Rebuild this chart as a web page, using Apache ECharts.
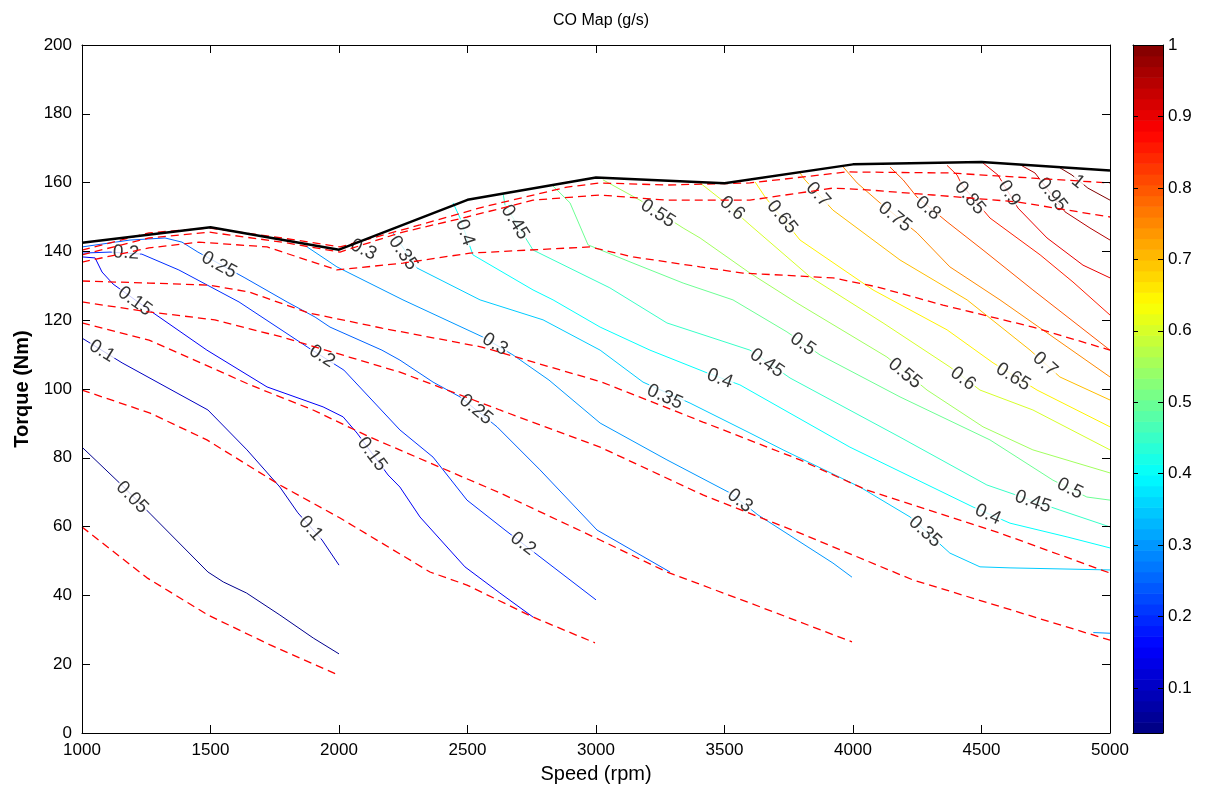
<!DOCTYPE html>
<html><head><meta charset="utf-8">
<script src="https://cdn.jsdelivr.net/npm/echarts@6/dist/echarts.min.js"></script>
<style>html,body{margin:0;padding:0;background:#fff}#c{width:1210px;height:798px}</style>
</head><body><div id="c"></div><script>
// ---------------- data ----------------
const speedBoundary  = [1000,1500,2000,2500,3000,3500,4000,4500,5000];
const torqueBoundary = [142.5,147,140.5,155,161.5,159.8,165.3,166,163.5];

const colorbarTicks = [0.1,0.2,0.3,0.4,0.5,0.6,0.7,0.8,0.9,1];

const co005 = [[1000,83.1],[1150,72.4],[1270,63.4],[1490,46.8],[1550,43.9],[1640,40.7],[1770,34.3],[1900,27.6],[2000,23.0]];
const co010 = [[1000,114.8],[1156,107.6],[1490,93.9],[1642,82.3],[1770,71.5],[1840,64.0],[1934,56.1],[2000,48.8]];
const co015 = [[1000,138.4],[1051,138.1],[1078,134.0],[1121,130.5],[1272,122.4],[1486,111.3],[1720,100.6],[1938,94.8],[2016,91.9],[2070,87.2],[2191,75.0],[2237,71.5],[2315,62.8],[2490,48.3],[2626,40.7],[2755,33.7]];
const co020 = [[1000,139.5],[1109,139.8],[1233,139.2],[1377,134.6],[1611,125.3],[1883,111.9],[2019,105.5],[2237,88.1],[2366,80.2],[2498,67.7],[2646,59.0],[2782,51.2],[3000,38.7]];
const co025 = [[1000,141.3],[1187,143.3],[1323,143.9],[1389,142.7],[1451,139.8],[1634,132.3],[1798,125.3],[1907,120.9],[1965,118.0],[2167,111.3],[2237,108.4],[2366,102.0],[2471,97.7],[2615,89.0],[2782,76.5],[3004,59.0],[3288,46.8]];
const co030 = [[1876,141.3],[1992,135.5],[2249,125.9],[2560,115.1],[2677,109.9],[2817,102.6],[3016,90.1],[3276,79.4],[3521,69.8],[3630,63.4],[3922,49.4],[3996,45.3]];
const co030b = [[4935,29.2],[5000,29.0]];
const co035 = [[2210,145.4],[2303,135.2],[2549,125.9],[2794,120.1],[3016,111.3],[3183,102.0],[3366,95.9],[3599,87.2],[3728,82.3],[4027,71.5],[4222,62.8],[4377,52.3],[4494,48.3],[4611,48.0],[5000,47.4]];
const co040 = [[2444,154.1],[2471,149.7],[2521,139.0],[2755,128.8],[2833,125.9],[3016,118.0],[3210,111.3],[3432,104.7],[3560,101.2],[3988,83.1],[4467,65.7],[4611,61.0],[4833,57.0],[5000,53.8]];
const co045 = [[2638,157.0],[2646,153.5],[2755,140.4],[3054,129.4],[3276,119.2],[3599,111.3],[3755,103.2],[4183,86.0],[4521,72.1],[4805,64.8],[5000,59.9]];
const co050 = [[2829,159.3],[2899,154.1],[2969,141.9],[3144,136.6],[3339,130.8],[3533,125.9],[3743,116.6],[3872,109.9],[4183,97.7],[4533,85.2],[4778,73.5],[4910,68.6],[5000,67.7]];
const co055 = [[3027,160.8],[3171,154.9],[3339,146.8],[3405,143.9],[3599,133.7],[3782,125.0],[4132,109.3],[4288,99.7],[4506,89.0],[4700,82.3],[5000,75.6]];
const co060 = [[3405,159.9],[3490,154.9],[3599,147.7],[3833,132.6],[4117,119.2],[4377,106.4],[4494,99.7],[4700,93.9],[5000,82.3]];
const co065 = [[3619,160.2],[3658,155.8],[3794,143.3],[4078,128.8],[4366,117.2],[4545,107.6],[4716,99.7],[5000,89.0]];
const co070 = [[3794,162.8],[3813,160.8],[3922,152.0],[4183,137.5],[4444,125.9],[4689,111.3],[4805,103.5],[5000,96.8]];
const co075 = [[3961,164.6],[4016,159.9],[4105,154.1],[4249,145.4],[4377,135.5],[4572,125.9],[4700,119.2],[5000,103.5]];
const co080 = [[4144,164.5],[4195,160.8],[4249,155.8],[4366,148.6],[4506,140.4],[4700,128.8],[5000,111.3]];
const co085 = [[4366,165.0],[4405,162.2],[4424,159.3],[4533,149.7],[4728,139.0],[4856,131.1],[5000,121.5]];
const co090 = [[4506,165.7],[4564,162.2],[4642,152.6],[4755,143.9],[4895,136.0],[5000,132.3]];
const co095 = [[4650,165.2],[4708,162.8],[4825,151.5],[4922,146.8],[5000,143.3]];
const co100 = [[4805,164.3],[4852,162.2],[4914,158.4],[5000,154.9]];

// red dashed reference contours (unlabelled)
const ref1 = [[1000,59.9],[1253,45.1],[1490,34.3],[1732,25.6],[1996,16.9]];
const ref2 = [[1000,99.7],[1265,93.0],[1486,85.2],[1770,72.1],[2004,62.5],[2354,46.8],[2498,43.0],[2755,33.7],[2996,26.2]];
const ref3 = [[1000,119.2],[1261,114.2],[1420,109.0],[1654,101.2],[1899,93.9],[2121,86.0],[2354,78.5],[2626,69.8],[3016,56.1],[3276,46.8],[3599,37.8],[3996,26.5]];
const ref4 = [[1000,125.3],[1261,122.4],[1517,120.1],[1778,115.1],[2039,109.3],[2237,104.9],[2626,93.9],[3016,83.1],[3416,69.2],[3794,58.1],[4233,44.5],[5000,27.0]];
const ref5 = [[1000,131.4],[1261,130.8],[1494,130.2],[1650,128.2],[1883,122.1],[2167,117.7],[2556,112.2],[3023,102.0],[3416,90.4],[3794,79.4],[4054,70.6],[4572,58.1],[5000,46.5]];
const ref6 = [[1000,136.9],[1261,141.0],[1455,142.7],[1720,141.3],[1992,134.6],[2249,136.6],[2510,139.5],[2743,140.4],[2976,141.3],[3144,138.4],[3405,135.5],[3572,133.7],[3922,132.3],[4093,129.7],[4350,124.4],[4700,118.0],[5000,111.3]];
const ref7 = [[1000,139.0],[1261,143.9],[1494,145.6],[1778,142.7],[2004,139.8],[2237,145.4],[2498,150.0],[2755,154.9],[3016,156.4],[3276,154.9],[3599,154.9],[3922,158.4],[4054,157.9],[4311,156.4],[4638,154.4],[5000,150.0]];
const ref8 = [[1000,140.4],[1261,145.4],[1494,146.8],[1778,143.9],[2004,141.3],[2315,147.7],[2560,152.9],[2887,158.7],[3016,159.9],[3276,159.3],[3599,159.9],[3977,163.1],[4377,162.8],[4700,161.3],[5000,159.9]];

// contour labels: [speed, torque, level]
const contourLabels = [
 [1195,68.5,0.05],
 [1078,111,0.1],[1890,59.5,0.1],
 [1206,125.5,0.15],[2128,81,0.15],
 [1171,139.6,0.2],[1934,109.5,0.2],[2716,55,0.2],
 [1533,136,0.25],[2533,94,0.25],
 [2095,140.5,0.3],[2607,113,0.3],[3560,67.5,0.3],
 [2249,139.5,0.35],[3268,97.7,0.35],[4280,58.5,0.35],
 [2490,145.5,0.4],[3482,103,0.4],[4525,63.5,0.4],
 [2685,148.5,0.45],[3665,107.5,0.45],[4700,67.2,0.45],
 [3805,113,0.5],[4844,71,0.5],
 [3241,151,0.55],[4202,104.5,0.55],
 [3530,152.5,0.6],[4428,103,0.6],
 [3724,150,0.65],[4623,103.5,0.65],
 [3864,156.5,0.7],[4747,107.2,0.7],
 [4163,150,0.75],
 [4292,152.5,0.8],
 [4455,155.5,0.85],
 [4607,156.9,0.9],
 [4774,156.5,0.95],
 [4875,160.2,1]
];

// ---------------- chart ----------------
const FONT = 'Liberation Sans, Arial, sans-serif';
const CMIN = 0.037, CMAX = 1;
function jet(v){
  let t=(v-CMIN)/(CMAX-CMIN); t=Math.max(0,Math.min(1,t));
  const c=x=>Math.round(255*Math.max(0,Math.min(1,x)));
  return 'rgb('+c(1.5-Math.abs(4*t-3))+','+c(1.5-Math.abs(4*t-2))+','+c(1.5-Math.abs(4*t-1))+')';
}
const contourSets = [
 [0.05,co005],[0.1,co010],[0.15,co015],[0.2,co020],[0.25,co025],[0.3,co030],[0.3,co030b],
 [0.35,co035],[0.4,co040],[0.45,co045],[0.5,co050],[0.55,co055],[0.6,co060],[0.65,co065],
 [0.7,co070],[0.75,co075],[0.8,co080],[0.85,co085],[0.9,co090],[0.95,co095],[1,co100]
];
const refLines = [ref1,ref2,ref3,ref4,ref5,ref6,ref7,ref8];
const nBands = 64;
const bands = Array.from({length:nBands},(_,i)=>[CMIN+i*(CMAX-CMIN)/nBands, CMIN+(i+1)*(CMAX-CMIN)/nBands]);

const chart = echarts.init(document.getElementById('c'), null, {renderer:'canvas'});
const txt = {color:'#000', fontFamily:FONT, fontSize:17};
const nameTxt = {color:'#000', fontFamily:FONT, fontSize:20};
const blackLine = {show:true, onZero:false, lineStyle:{color:'#000', width:1}};
const plain = v => String(v);

function buildSeries(angles){
  const s = [];
  contourSets.forEach(([lv,pts])=>{
    s.push({type:'line', xAxisIndex:0, yAxisIndex:0, data:pts, symbol:'none', showSymbol:false,
      lineStyle:{color:jet(lv), width:1}, z:2, silent:true, animation:false});
  });
  s.push({type:'scatter', xAxisIndex:0, yAxisIndex:0, symbolSize:1, itemStyle:{color:'rgba(0,0,0,0)'}, z:3, silent:true,
    data: contourLabels.map((l,i)=>({value:[l[0],l[1]], label:{formatter:String(l[2]), rotate: angles? angles[i]:0}})),
    label:{show:true, position:'inside', align:'center', verticalAlign:'middle', color:'#000', fontFamily:FONT, fontSize:19,
      backgroundColor:'#fff', padding:[0,1]}});
  refLines.forEach(pts=>{
    s.push({type:'line', xAxisIndex:0, yAxisIndex:0, data:pts, symbol:'none', showSymbol:false,
      lineStyle:{color:'#ff0000', width:1.3, type:[8,5]}, z:4, silent:true});
  });
  s.push({type:'line', xAxisIndex:0, yAxisIndex:0, data:speedBoundary.map((x,i)=>[x,torqueBoundary[i]]),
    symbol:'none', lineStyle:{color:'#000', width:2.5}, z:5, silent:true});
  s.push({type:'custom', xAxisIndex:2, yAxisIndex:2, data:bands, silent:true, z:2,
    renderItem:(params,api)=>{
      const y0=api.value(0), y1=api.value(1);
      const p0=api.coord([0,y0]), p1=api.coord([1,y1]);
      return {type:'rect', shape:{x:p0[0], y:p1[1], width:p1[0]-p0[0], height:p0[1]-p1[1]+0.6},
        style:{fill:jet((y0+y1)/2)}};
    }});
  return s;
}

const option = {
  animation:false,
  backgroundColor:'#fff',
  title:{text:'CO Map (g/s)', left:596, top:8, textAlign:'center',
    textStyle:{color:'#000', fontFamily:FONT, fontSize:16, fontWeight:'normal'}},
  grid:[{left:82,right:100,top:45,bottom:65},{left:1133,width:30,top:45,bottom:65}],
  xAxis:[
    {gridIndex:0, type:'value', min:1000, max:5000, interval:500, position:'bottom', axisLine:blackLine,
     axisTick:{inside:true,length:8,lineStyle:{color:'#000'}}, axisLabel:Object.assign({margin:9, formatter:plain},txt),
     splitLine:{show:false}, name:'Speed (rpm)', nameLocation:'middle', nameGap:31, nameTextStyle:nameTxt, z:10},
    {gridIndex:0, type:'value', min:1000, max:5000, interval:500, position:'top', axisLine:blackLine,
     axisTick:{inside:true,length:8,lineStyle:{color:'#000'}}, axisLabel:{show:false}, splitLine:{show:false}, z:10},
    {gridIndex:1, type:'value', min:0, max:1, position:'bottom', axisLine:blackLine, axisTick:{show:false},
     axisLabel:{show:false}, splitLine:{show:false}, z:10},
    {gridIndex:1, type:'value', min:0, max:1, position:'top', axisLine:blackLine, axisTick:{show:false},
     axisLabel:{show:false}, splitLine:{show:false}, z:10}
  ],
  yAxis:[
    {gridIndex:0, type:'value', min:0, max:200, interval:20, position:'left', axisLine:blackLine,
     axisTick:{inside:true,length:8,lineStyle:{color:'#000'}}, axisLabel:Object.assign({margin:10, formatter:plain},txt),
     splitLine:{show:false}, name:'Torque (Nm)', nameLocation:'middle', nameGap:50, nameRotate:90,
     nameTextStyle:Object.assign({},nameTxt,{fontWeight:'bold'}), z:10},
    {gridIndex:0, type:'value', min:0, max:200, interval:20, position:'right', axisLine:blackLine,
     axisTick:{inside:true,length:8,lineStyle:{color:'#000'}}, axisLabel:{show:false}, splitLine:{show:false}, z:10},
    {gridIndex:1, type:'value', min:CMIN, max:CMAX, position:'right', axisLine:blackLine,
     axisTick:{inside:true,length:5,customValues:colorbarTicks,lineStyle:{color:'#000'}},
     axisLabel:Object.assign({margin:5, customValues:colorbarTicks, formatter:v=>String(+(+v).toFixed(2))},txt),
     splitLine:{show:false}, z:10},
    {gridIndex:1, type:'value', min:CMIN, max:CMAX, position:'left', axisLine:blackLine,
     axisTick:{inside:true,length:5,customValues:colorbarTicks,lineStyle:{color:'#000'}},
     axisLabel:{show:false}, splitLine:{show:false}, z:10}
  ],
  series: buildSeries(null)
};
chart.setOption(option);

// rotate each label along its own contour (pixel space)
function labelAngle(l){
  const f = {xAxisIndex:0, yAxisIndex:0};
  const p = chart.convertToPixel(f, [l[0], l[1]]);
  let best=[1,0], bd=Infinity;
  contourSets.filter(s=>s[0]===l[2]).forEach(s=>{
    const pts = s[1].map(q=>chart.convertToPixel(f, q));
    for(let i=0;i<pts.length-1;i++){
      const a=pts[i], b=pts[i+1], dx=b[0]-a[0], dy=b[1]-a[1];
      const L2=dx*dx+dy*dy;
      let t = L2 ? ((p[0]-a[0])*dx+(p[1]-a[1])*dy)/L2 : 0;
      t=Math.max(0,Math.min(1,t));
      const d=Math.hypot(p[0]-(a[0]+t*dx), p[1]-(a[1]+t*dy));
      if(d<bd){bd=d; best=[dx,dy];}
    }
  });
  let ang = Math.atan2(-best[1], best[0])*180/Math.PI;
  if(ang>90) ang-=180; if(ang<-90) ang+=180;
  return ang;
}
const angles = contourLabels.map(labelAngle);
option.series = buildSeries(angles);
chart.setOption(option, true);
</script></body></html>
